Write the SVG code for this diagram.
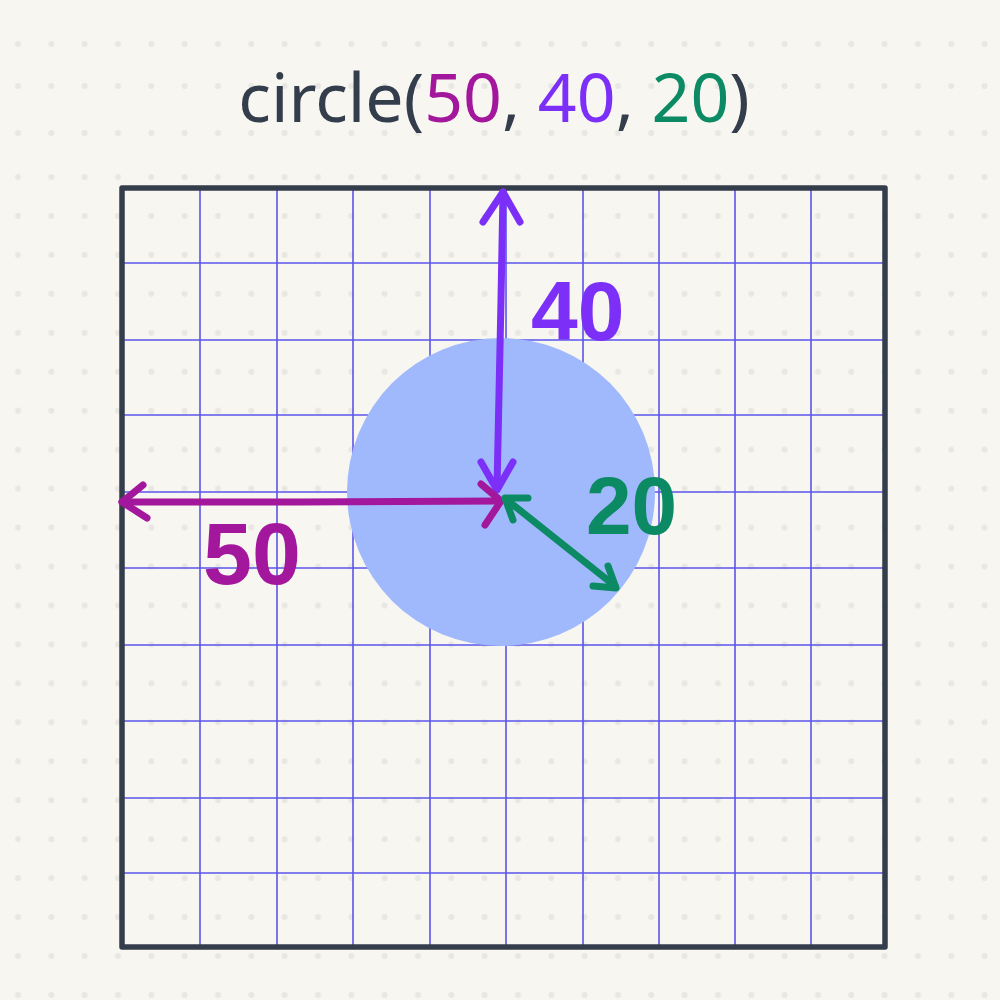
<svg xmlns="http://www.w3.org/2000/svg" width="1000" height="1000" viewBox="0 0 1000 1000">
<defs>
<pattern id="dots" x="1" y="177" width="33.33" height="38.95" patternUnits="userSpaceOnUse">
<circle cx="17" cy="0" r="3" fill="#e9e7e3"/>
<circle cx="17" cy="38.95" r="3" fill="#e9e7e3"/>
</pattern>
<pattern id="dotrow" x="1" y="0" width="33.33" height="1000" patternUnits="userSpaceOnUse">
<circle cx="17" cy="44" r="3" fill="#e9e7e3"/>
<circle cx="17" cy="86" r="3" fill="#e9e7e3"/>
<circle cx="17" cy="133" r="3" fill="#e9e7e3"/>
</pattern>
<style>
.grid line{stroke:#5a55ea;stroke-width:1.6}
.arr{fill:none;stroke-width:7;stroke-linecap:round;stroke-linejoin:round}
.lbl{font-family:"Liberation Sans","DejaVu Sans",sans-serif;font-weight:bold}
</style>
</defs>
<rect width="1000" height="1000" fill="#f8f6f1"/>
<rect x="0" y="0" width="1000" height="160" fill="url(#dotrow)"/>
<rect x="0" y="160" width="1000" height="840" fill="url(#dots)"/>
<text x="494" y="122" text-anchor="middle" font-family="'Noto Sans','Open Sans',sans-serif" font-size="68" fill="#343d4c">circle(<tspan fill="#a3179d">50</tspan>, <tspan fill="#7b2ff7">40</tspan>, <tspan fill="#0b8a64">20</tspan>)</text>
<g id="grid" class="grid">
<line x1="200" y1="187" x2="200" y2="947"/>
<line x1="277" y1="187" x2="277" y2="947"/>
<line x1="353" y1="187" x2="353" y2="947"/>
<line x1="430" y1="187" x2="430" y2="947"/>
<line x1="506" y1="187" x2="506" y2="947"/>
<line x1="583" y1="187" x2="583" y2="947"/>
<line x1="659" y1="187" x2="659" y2="947"/>
<line x1="735" y1="187" x2="735" y2="947"/>
<line x1="811" y1="187" x2="811" y2="947"/>
<line x1="121" y1="263" x2="886" y2="263"/>
<line x1="121" y1="340" x2="886" y2="340"/>
<line x1="121" y1="415" x2="886" y2="415"/>
<line x1="121" y1="492" x2="886" y2="492"/>
<line x1="121" y1="568" x2="886" y2="568"/>
<line x1="121" y1="645" x2="886" y2="645"/>
<line x1="121" y1="721" x2="886" y2="721"/>
<line x1="121" y1="798" x2="886" y2="798"/>
<line x1="121" y1="873" x2="886" y2="873"/>
</g>
<g id="frame">
<rect x="122" y="188" width="763" height="759" fill="none" stroke="#343d4c" stroke-width="5.5" stroke-linejoin="round"/>
</g>
<g id="circle">
<circle cx="501" cy="492" r="154" fill="#a0b9fd"/>
</g>
<g id="connectors">
<g id="arrow-y" stroke="#7b2ff7" class="arr">
<path d="M503 192 L501 300 L497 488"/>
<path d="M483 222 L503 192 L520 222"/>
<path d="M481 462 L497 490 L513 462"/>
</g>
<g id="arrow-x" stroke="#a3179d" class="arr">
<path d="M122 502 L300 502 L500 501"/>
<path d="M143 485 L122 502 L147 518"/>
<path d="M481 484 L501 501 L485 525"/>
</g>
<g id="arrow-r" stroke="#0b8a64" class="arr">
<path d="M507 500 L615 586"/>
<path d="M528 498 L505 498 L513 520"/>
<path d="M608 566 L616 588 L593 586"/>
</g>
</g>
<g id="labels" class="lbl">
<text x="531" y="340" font-size="84" fill="#7b2ff7">40</text>
<text x="203" y="584" font-size="88" fill="#a3179d">50</text>
<text x="586" y="534" font-size="82" fill="#0b8a64">20</text>
</g>
</svg>
